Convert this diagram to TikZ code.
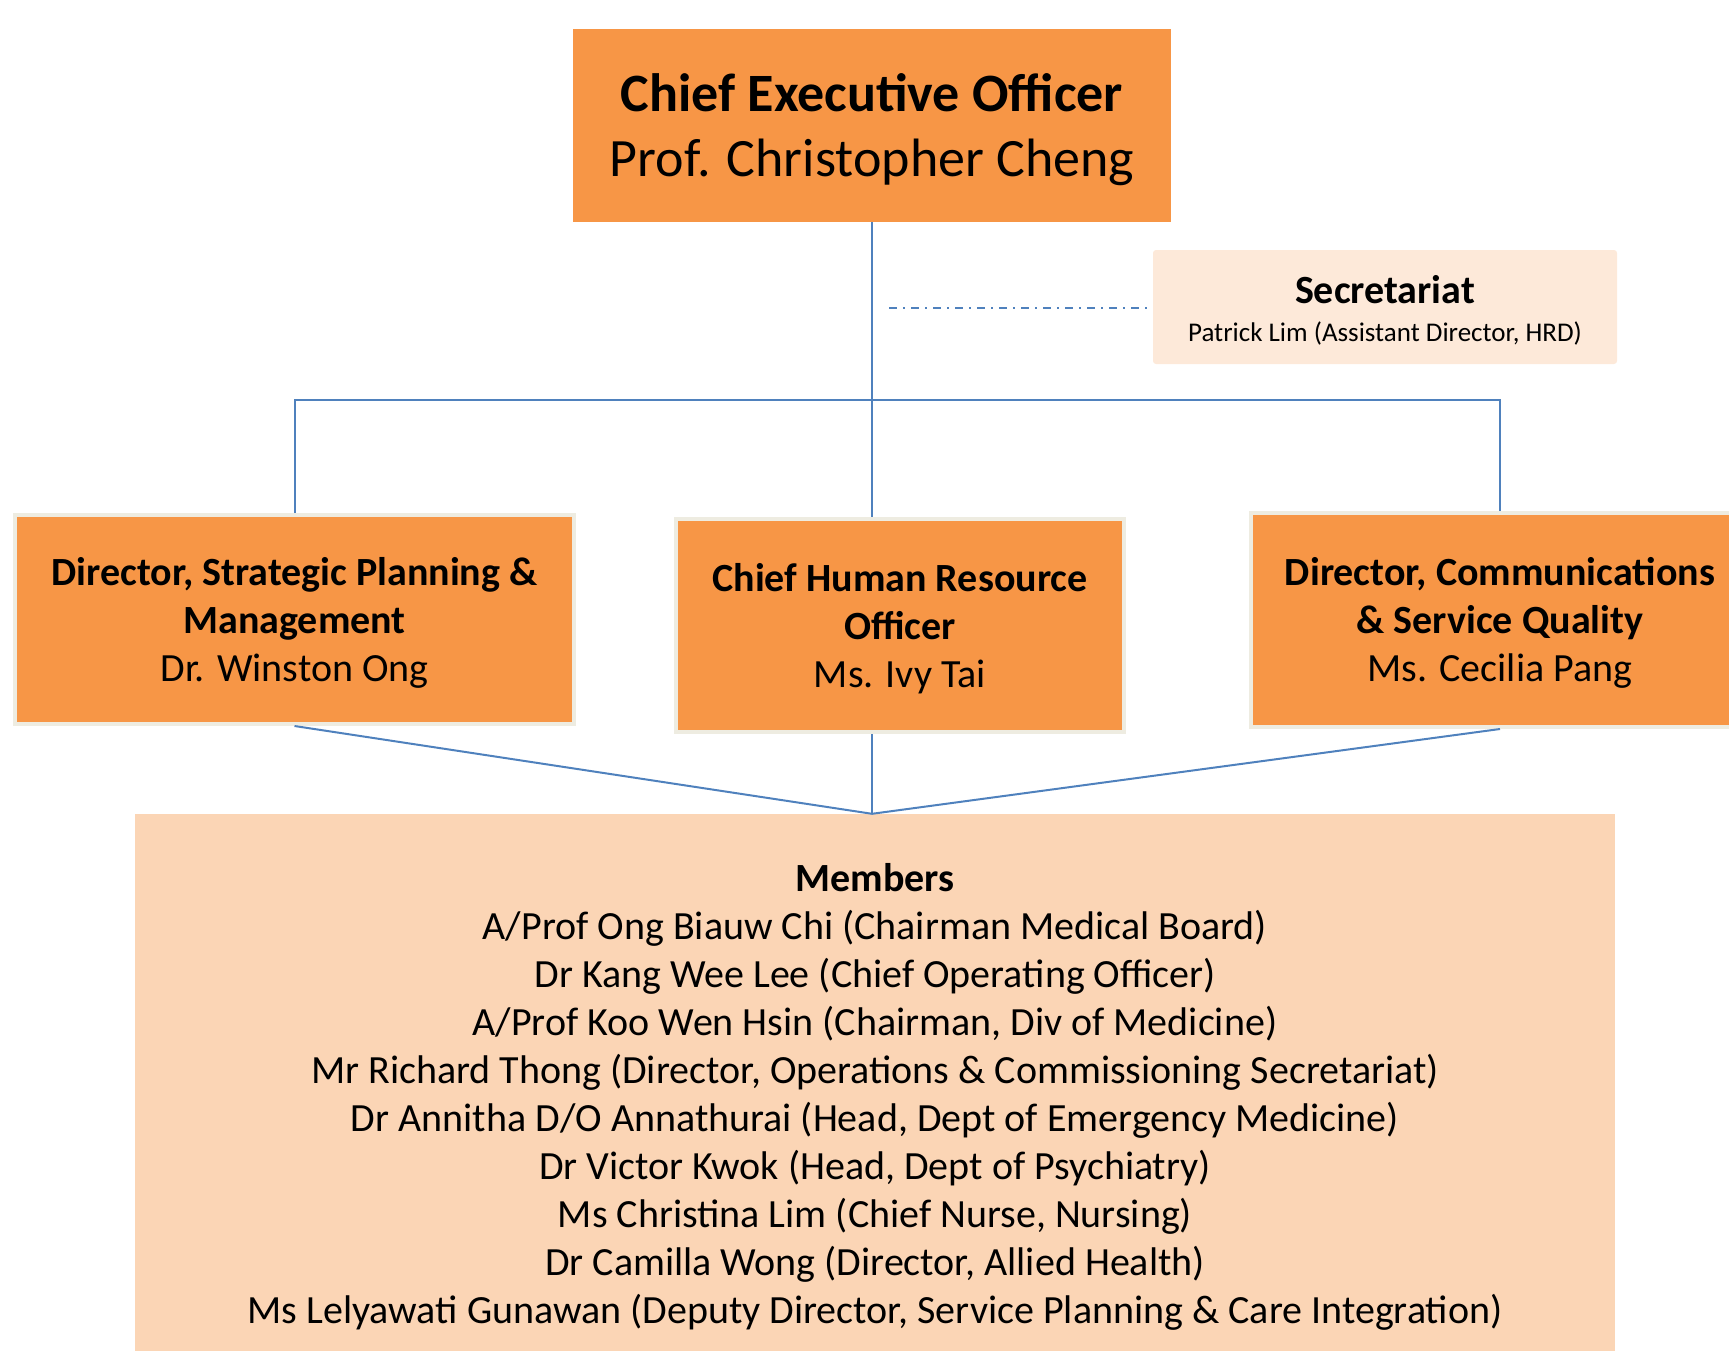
\documentclass[tikz,border=0pt]{standalone}
\usepackage{fontspec}
\setmainfont{Carlito}
\usetikzlibrary{positioning,calc}
\definecolor{boxorange}{RGB}{247,150,70}
\definecolor{boxedge}{RGB}{238,236,225}
\definecolor{secfill}{RGB}{253,233,217}
\definecolor{memfill}{RGB}{251,213,181}
\definecolor{linkblue}{RGB}{79,129,189}
% line struts with the ascent/descent of a word-processor line
\newcommand{\topstrut}{\rule{0pt}{0.952em}}
\newcommand{\botstrut}{\rule[-0.269em]{0pt}{0pt}}
\tikzset{
  orgbox/.style  = {rectangle, align=center, inner sep=0pt},
  ceobox/.style  = {orgbox, fill=boxorange, minimum width=598pt, minimum height=193pt,
                    font=\fontsize{54}{65}\selectfont},
  unitbox/.style = {orgbox, fill=boxorange, draw=boxedge, line width=4pt,
                    font=\fontsize{40}{48}\selectfont},
  secbox/.style  = {orgbox, fill=secfill, rounded corners=3pt,
                    minimum width=464pt, minimum height=114pt,
                    font=\fontsize{27}{38}\selectfont},
  membox/.style  = {orgbox, fill=memfill, minimum width=1480pt, minimum height=560pt,
                    font=\fontsize{40}{48}\selectfont},
  conn/.style    = {draw=linkblue, line width=2pt},
  dotconn/.style = {conn, dash pattern=on 8pt off 6pt on 2pt off 6pt}
}

\begin{document}
\begin{tikzpicture}[x=1pt,y=-1pt]
\clip (0,0) rectangle (1729,1351);
\useasboundingbox (0,0) rectangle (1729,1351);

% --- top of the chart ---
\node[ceobox] (ceo) at (872,125.5)
  {\topstrut\textbf{Chief Executive Officer}\\Prof. Christopher Cheng\botstrut};
\node[secbox] (sec) at (1385,307)
  {{\fontsize{40}{40}\selectfont\topstrut\textbf{Secretariat}}\\Patrick Lim (Assistant Director, HRD)\botstrut};

% --- the three units ---
\node[unitbox, minimum width=559pt, minimum height=209pt] (sp) at (294.5,619.5)
  {\topstrut\textbf{Director, Strategic Planning \&}\\\textbf{Management}\\Dr. Winston Ong\botstrut};
\node[unitbox, minimum width=448pt, minimum height=213pt] (hr) at (900,625.5)
  {\topstrut\textbf{Chief Human Resource}\\\textbf{Officer}\\Ms. Ivy Tai\botstrut};
\node[unitbox, minimum width=498pt, minimum height=214pt] (cs) at (1500,620)
  {\topstrut\textbf{Director, Communications}\\\textbf{\& Service Quality}\\Ms. Cecilia Pang\botstrut};

% --- members ---
\node[membox] (mem) at (875,1094)
  {\topstrut\textbf{Members}\\
   A/Prof Ong Biauw Chi (Chairman Medical Board)\\
   Dr Kang Wee Lee (Chief Operating Officer)\\
   A/Prof Koo Wen Hsin (Chairman, Div of Medicine)\\
   Mr Richard Thong (Director, Operations \& Commissioning Secretariat)\\
   Dr Annitha D/O Annathurai (Head, Dept of Emergency Medicine)\\
   Dr Victor Kwok (Head, Dept of Psychiatry)\\
   Ms Christina Lim (Chief Nurse, Nursing)\\
   Dr Camilla Wong (Director, Allied Health)\\
   Ms Lelyawati Gunawan (Deputy Director, Service Planning \& Care Integration)\botstrut};

% --- connectors ---
\coordinate (bus) at (ceo.south |- 0,400);
\coordinate (join) at (ceo.south |- mem.north);
\coordinate (tap) at (ceo.south |- 0,307.5);
\draw[conn] (ceo.south) -- (ceo.south |- hr.north);
\draw[conn] (sp.north) -- (sp.north |- bus) -- (cs.north |- bus) -- (cs.north);
\draw[dotconn] ([xshift=17pt]tap) -- (tap -| sec.west);
\foreach \u in {sp,cs}
  \draw[conn] (\u.south) -- (join);
\draw[conn] (ceo.south |- hr.south) -- (join);

\end{tikzpicture}
\end{document}
